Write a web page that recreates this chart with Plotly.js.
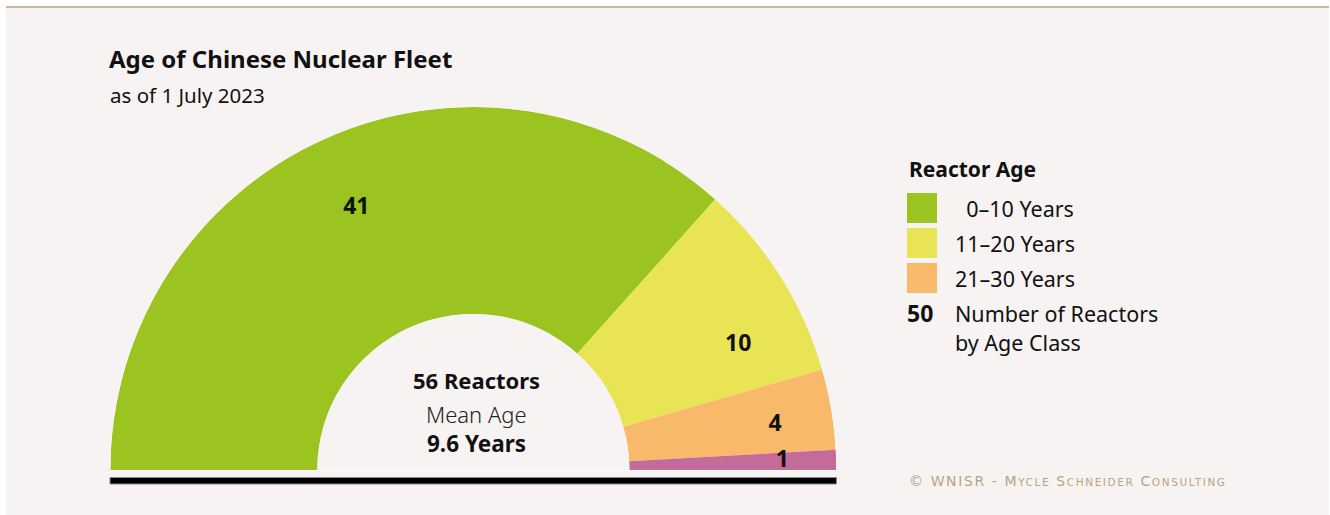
<!DOCTYPE html>
<html>
<head>
<meta charset="utf-8">
<script src="https://cdn.plot.ly/plotly-3.0.1.min.js"></script>
<style>html,body{margin:0;padding:0;background:#fff;}#chart{width:1330px;height:515px;}</style>
</head>
<body>
<div id="chart"></div>
<script>
// ---- data ----
const categories = ['0–10 Years', '11–20 Years', '21–30 Years', '31–40 Years'];
const reactorCounts = [41, 10, 4, 1];
const colors = ['#9bc420', '#e8e454', '#f9b96a', '#c56b99'];
const legendCategories = ['0–10 Years', '11–20 Years', '21–30 Years'];
const totalReactors = 56;
const meanAge = 9.6;

// label placement tweaks (degrees / radial fraction)
const labelShift = [0, -7, -1.2, 0];
const labelR = [0.63, 0.66, 0.72, 0.74];

const W = 1330, H = 515;
const px = x => x / W;
const py = y => 1 - y / H;

const total = reactorCounts.reduce((a, b) => a + b, 0);
let start = 180;
const widths = [], centers = [];
reactorCounts.forEach(v => {
  const w = 180 * v / total;
  widths.push(w);
  centers.push(start - w / 2);
  start -= w;
});

const font = 'Noto Sans, Open Sans, sans-serif';

const traces = [
  {
    type: 'barpolar',
    r: reactorCounts.map(() => 1),
    theta: centers,
    width: widths,
    marker: { color: colors, line: { width: 0 } },
    hoverinfo: 'skip',
    showlegend: false
  },
  {
    type: 'scatterpolar',
    mode: 'text',
    r: labelR,
    theta: centers.map((c, i) => c + labelShift[i]),
    text: reactorCounts.map(String),
    textfont: { family: font, size: 23, color: '#111', weight: 700 },
    cliponaxis: false,
    hoverinfo: 'skip',
    showlegend: false
  }
];

const shapes = [
  { type: 'rect', xref: 'paper', yref: 'paper', x0: px(6), x1: px(1329), y0: 0, y1: py(7), fillcolor: '#f7f3f2', line: { width: 0 }, layer: 'below' },
  { type: 'line', xref: 'paper', yref: 'paper', x0: px(6), x1: px(1329), y0: py(7), y1: py(7), line: { color: '#c9b9a2', width: 2 }, layer: 'below' },
  { type: 'line', xref: 'paper', yref: 'paper', x0: px(110), x1: px(837), y0: py(470.5), y1: py(470.5), line: { color: '#fdfbf4', width: 1 } },
  { type: 'rect', xref: 'paper', yref: 'paper', x0: px(110), x1: px(836.5), y0: py(484), y1: py(477.5), fillcolor: '#000', line: { color: '#8a8a8a', width: 1 } }
];
const legTops = [193, 228, 263];
legendCategories.forEach((c, i) => {
  shapes.push({ type: 'rect', xref: 'paper', yref: 'paper', x0: px(907), x1: px(937), y0: py(legTops[i] + 30), y1: py(legTops[i]), fillcolor: colors[i], line: { width: 0 } });
});

function ann(text, x, y, size, opts) {
  return Object.assign({
    text: text, xref: 'paper', yref: 'paper', x: px(x), y: py(y),
    xanchor: 'left', yanchor: 'middle', showarrow: false,
    font: { family: font, size: size, color: '#111' }
  }, opts || {});
}

const annotations = [
  ann('<b>Age of Chinese Nuclear Fleet</b>', 107, 58, 24),
  ann('as of 1 July 2023', 108, 95, 20.5),
  ann('<b>Reactor Age</b>', 907, 169, 21),
  ann('  ' + legendCategories[0], 953, 208, 21.5),
  ann(legendCategories[1], 953, 244, 21.5),
  ann(legendCategories[2], 953, 278, 21.5),
  ann('<b>50</b>', 905, 313, 23),
  ann('Number of Reactors', 953, 313, 21.5),
  ann('by Age Class', 953, 342, 21.5),
  ann('<b>' + totalReactors + ' Reactors</b>', 476, 380, 22, { xanchor: 'center' }),
  ann('Mean Age', 476, 414, 22, { xanchor: 'center', font: { family: font, size: 22, color: '#222', weight: 300 } }),
  ann('<b>' + meanAge + ' Years</b>', 476, 443, 22.5, { xanchor: 'center' }),
  ann('<span style="letter-spacing:1.6px">© WNISR - M<span style="font-size:10.5px">YCLE</span> S<span style="font-size:10.5px">CHNEIDER</span> C<span style="font-size:10.5px">ONSULTING</span></span>',
      907, 481, 14, { font: { family: 'DejaVu Sans, sans-serif', size: 14, color: '#b8a57e' } })
];

const layout = {
  width: W, height: H,
  margin: { l: 0, r: 0, t: 0, b: 0 },
  paper_bgcolor: '#ffffff',
  showlegend: false,
  polar: {
    domain: { x: [px(110), px(836.7)], y: [py(470), py(107)] },
    sector: [0, 180],
    hole: 0.43,
    bgcolor: 'rgba(0,0,0,0)',
    radialaxis: { visible: false, range: [0, 1] },
    angularaxis: { visible: false, direction: 'counterclockwise', rotation: 0 }
  },
  shapes: shapes,
  annotations: annotations
};

Plotly.newPlot('chart', traces, layout, { displayModeBar: false, staticPlot: true });
</script>
</body>
</html>
